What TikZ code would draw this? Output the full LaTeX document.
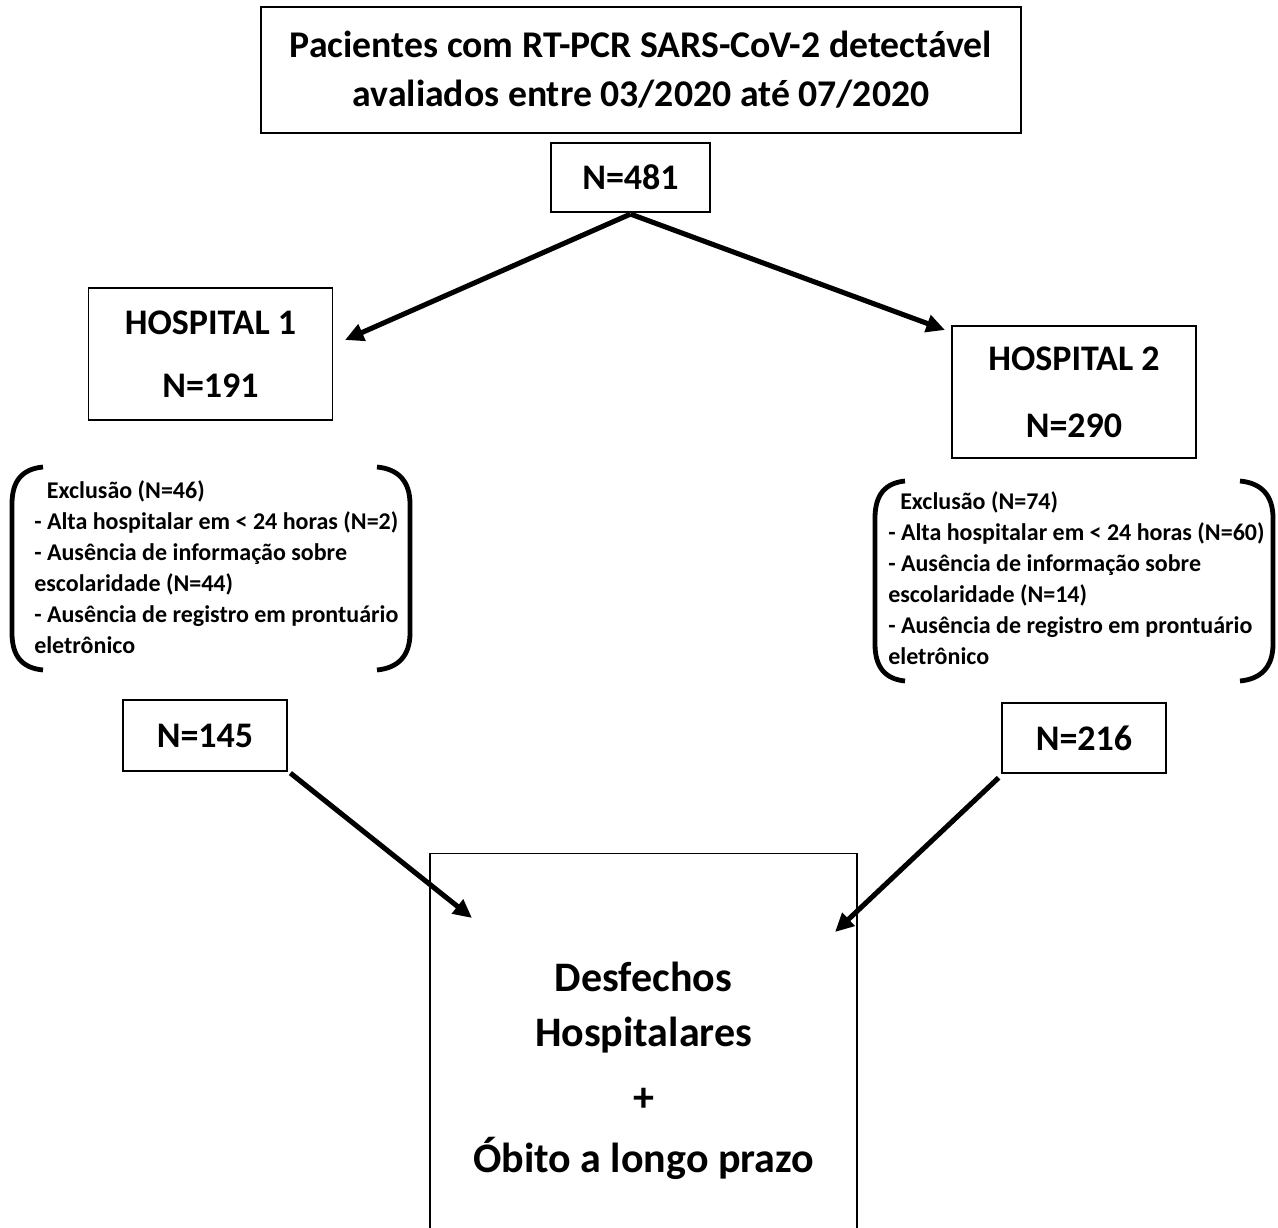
\documentclass[tikz,border=0pt]{standalone}
\usepackage{fontspec}
\setmainfont{Carlito}
\usetikzlibrary{arrows.meta}
\begin{document}
\begin{tikzpicture}[x=0.75pt,y=-0.75pt,
  box/.style={draw,line width=1.1pt,inner sep=0pt,align=center},
  arr/.style={line width=3.8pt,-{Triangle[length=14pt,width=13pt]}},
  brk/.style={line width=3.6pt},
  exlist/.style={align=left,anchor=north west,inner sep=0pt,font=\bfseries\fontsize{18}{23.3}\selectfont},
  every node/.style={font=\bfseries}]
\useasboundingbox (0,0) rectangle (1278,1228);
% boxes
\node[box,minimum width=570pt,minimum height=94.5pt,font=\bfseries\fontsize{28.3}{36.75}\selectfont] (top) at (641,70)
  {Pacientes com RT-PCR SARS-CoV-2 detectável\\avaliados entre 03/2020 até 07/2020};
\node[box,minimum width=119pt,minimum height=51.75pt,font=\bfseries\fontsize{27}{30}\selectfont] (n481) at (630.5,177.5) {N=481};
\node[box,minimum width=183pt,minimum height=99pt,font=\bfseries\fontsize{27}{47}\selectfont] (h1) at (210.5,354) {HOSPITAL 1\\N=191};
\node[box,minimum width=183pt,minimum height=99pt,font=\bfseries\fontsize{27}{50}\selectfont] (h2) at (1074,392) {HOSPITAL 2\\N=290};
\node[box,minimum width=123pt,minimum height=53.25pt,font=\bfseries\fontsize{27}{30}\selectfont] (n145) at (205,735.5) {N=145};
\node[box,minimum width=123pt,minimum height=52.5pt,font=\bfseries\fontsize{27}{30}\selectfont] (n216) at (1084,738) {N=216};
\node[box,minimum width=320pt,minimum height=284pt,anchor=north] (out) at (643.5,853) {};
\node[align=center,font=\bfseries\fontsize{31.5}{41.25}\selectfont] (outtxt) at (643.5,1071)
  {Desfechos\\Hospitalares\\[7pt]+\\[5pt]Óbito a longo prazo};
% exclusion lists
\node[exlist] (ex1) at (34,480)
  {\hspace*{9.5pt}Exclusão (N=46)\\- Alta hospitalar em < 24 horas (N=2)\\- Ausência de informação sobre\\escolaridade (N=44)\\- Ausência de registro em prontuário\\eletrônico};
\node[exlist] (ex2) at (888,491)
  {\hspace*{9pt}Exclusão (N=74)\\- Alta hospitalar em < 24 horas (N=60)\\- Ausência de informação sobre\\escolaridade (N=14)\\- Ausência de registro em prontuário\\eletrônico};
% brackets
\draw[brk] (43,467) .. controls (22,469) and (12,481) .. (12,504) -- (12,633) .. controls (12,656) and (22,668) .. (43,670);
\draw[brk] (377,467) .. controls (398,469) and (410,481) .. (410,504) -- (410,633) .. controls (410,656) and (398,668) .. (377,670);
\draw[brk] (905,481) .. controls (885,483) and (875,495) .. (875,518) -- (875,644) .. controls (875,667) and (885,679) .. (905,681);
\draw[brk] (1240,481) .. controls (1261,483) and (1273,495) .. (1273,518) -- (1273,644) .. controls (1273,667) and (1261,679) .. (1240,681);
% arrows
\coordinate (t1) at (345,340);
\coordinate (t2) at (945,330);
\coordinate (t3) at (472,918);
\coordinate (t4) at (835,932);
\draw[arr] ([yshift=-1pt]n481.south) -- (t1);
\draw[arr] ([yshift=-1pt]n481.south) -- (t2);
\draw[arr] ([xshift=2pt,yshift=-1pt]n145.south east) -- (t3);
\draw[arr] ([xshift=-2pt,yshift=-3pt]n216.south west) -- (t4);
\end{tikzpicture}
\end{document}
